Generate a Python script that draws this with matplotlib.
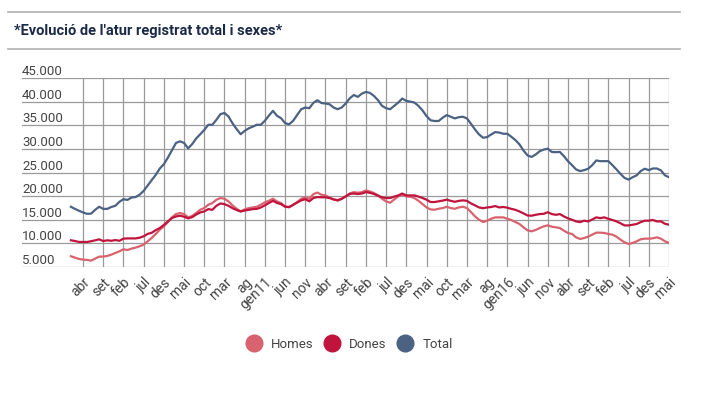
import numpy as np
import matplotlib
matplotlib.use("Agg")
import matplotlib.pyplot as plt
import matplotlib.transforms as mtransforms
from matplotlib.lines import Line2D

plt.rcParams['font.family'] = ['Roboto', 'DejaVu Sans']

# monthly registered unemployment, gen 2007 .. mai 2019
total = [17750, 17300, 16900, 16550, 16250, 16300, 17100, 17750, 17300, 17300,
         17700, 17950, 18800, 19350, 19200, 19700, 19800, 20300, 21100, 22250,
         23400, 24500, 25850, 26750, 28150, 29700, 31250, 31600, 31250, 30100,
         31000, 32200, 33100, 34000, 35100, 35100, 36150, 37350, 37600, 36850,
         35400, 34200, 33100, 33800, 34350, 34700, 35100, 35100, 35950, 37050,
         38050, 37000, 36500, 35450, 35200, 35950, 37200, 38400, 38750, 38600,
         39750, 40300, 39700, 39600, 39450, 38750, 38400, 38750, 39600, 40700,
         41400, 41000, 41700, 42050, 41850, 41200, 40300, 39100, 38600, 38400,
         39100, 39800, 40650, 40150, 40000, 39800, 39100, 38150, 36950, 36050,
         35900, 35900, 36600, 37150, 36800, 36450, 36700, 36800, 36450, 35300,
         34100, 33050, 32350, 32500, 33050, 33550, 33450, 33200, 33200, 32550,
         31850, 30950, 29650, 28600, 28300, 28800, 29500, 29850, 30050, 29350,
         29300, 29350, 28450, 27400, 26550, 25650, 25300, 25500, 25800, 26550,
         27550, 27400, 27400, 27400, 26550, 25650, 24700, 23850, 23500, 24000,
         24400, 25300, 25800, 25500, 25850, 25850, 25450, 24400, 24000]

dones = [10650, 10500, 10300, 10300, 10300, 10450, 10650, 10850, 10500, 10650,
         10550, 10700, 10550, 11000, 11050, 11050, 11050, 11200, 11500, 12000,
         12250, 12800, 13250, 13900, 14650, 15350, 15700, 15850, 15650, 15300,
         15550, 16100, 16550, 16750, 17250, 17100, 17950, 18450, 18300, 17950,
         17450, 17050, 16750, 16950, 17100, 17250, 17300, 17600, 18050, 18550,
         19000, 18550, 18300, 17750, 17700, 18150, 18650, 19100, 19350, 18900,
         19600, 19800, 19750, 19750, 19600, 19300, 19150, 19450, 19950, 20450,
         20550, 20450, 20550, 20850, 20700, 20450, 20100, 19750, 19600, 19600,
         19900, 20150, 20550, 20150, 20150, 20150, 19900, 19600, 19250, 18750,
         18750, 18900, 19050, 19250, 19000, 18800, 19000, 19100, 19000, 18450,
         18050, 17600, 17450, 17600, 17700, 17900, 17600, 17700, 17550, 17300,
         17100, 16750, 16350, 15900, 15850, 16050, 16200, 16250, 16600, 16200,
         16050, 16200, 15700, 15300, 15000, 14650, 14500, 14800, 14650, 15050,
         15500, 15350, 15500, 15200, 14950, 14650, 14250, 13800, 13800, 13950,
         14100, 14500, 14800, 14800, 14950, 14650, 14650, 14150, 13950]

homes = [7270, 6990, 6700, 6560, 6500, 6350, 6770, 7200, 7200, 7340,
         7620, 7970, 8320, 8750, 8600, 8890, 9100, 9380, 9730, 10440,
         11150, 11990, 12900, 13600, 14520, 15500, 16200, 16420, 16200, 15500,
         15800, 16420, 17120, 17470, 18180, 18530, 19230, 19590, 19450, 18880,
         18040, 17330, 16770, 17190, 17470, 17610, 17750, 18180, 18670, 19020,
         19450, 18880, 18530, 17820, 17610, 18180, 18740, 19450, 19730, 19450,
         20430, 20750, 20290, 20150, 19730, 19300, 19020, 19380, 19940, 20570,
         20850, 20710, 20850, 21200, 20990, 20640, 20150, 19450, 18880, 18600,
         19300, 19940, 20290, 19940, 19870, 19590, 19020, 18320, 17610, 17190,
         17120, 17330, 17470, 17750, 17470, 17330, 17610, 17750, 17470, 16630,
         15710, 15010, 14520, 14800, 15220, 15500, 15500, 15500, 15220, 14940,
         14520, 14100, 13390, 12760, 12550, 12830, 13250, 13600, 13810, 13530,
         13390, 13250, 12690, 12200, 11990, 11280, 10930, 11140, 11420, 11840,
         12270, 12270, 12200, 11990, 11840, 11420, 10790, 10220, 9870, 10080,
         10440, 10860, 11000, 11000, 11070, 11280, 11000, 10440, 10080]

x_labels = ['abr', 'set', 'feb', 'jul', 'des', 'mai', 'oct', 'mar', 'ag', 'gen11',
            'jun', 'nov', 'abr', 'set', 'feb', 'jul', 'des', 'mai', 'oct', 'mar',
            'ag', 'gen16', 'jun', 'nov', 'abr', 'set', 'feb', 'jul', 'des', 'mai']
y_ticks = [5000, 10000, 15000, 20000, 25000, 30000, 35000, 40000, 45000]
y_labels = ['5.000', '10.000', '15.000', '20.000', '25.000', '30.000',
            '35.000', '40.000', '45.000']

c_homes = '#d9626f'
c_dones = '#c0143d'
c_total = '#4b6282'
c_text = '#444444'

months = np.arange(len(total))
x_ticks = np.arange(3, len(total), 5)

fig = plt.figure(figsize=(7.04, 3.93), dpi=100)
ax = fig.add_axes([22 / 704, 1 - 267 / 393, (669 - 22) / 704, (267 - 78) / 393])

ax.plot(months, homes, color=c_homes, lw=1.6, solid_joinstyle='round')
ax.plot(months, dones, color=c_dones, lw=1.6, solid_joinstyle='round')
ax.plot(months, total, color=c_total, lw=1.6, solid_joinstyle='round')

ax.set_xlim(-12.1, 148)
ax.set_ylim(5000, 45000)
ax.set_yticks(y_ticks)
ax.set_yticklabels([])
ax.set_xticks(x_ticks)
ax.set_xticklabels(x_labels, rotation=45, ha='right', va='top',
                   rotation_mode='anchor', fontsize=10, color=c_text)
ax.tick_params(length=0, pad=6)
ax.grid(True, color='#9a9a9a', lw=0.9)
ax.set_axisbelow(True)
for s in ax.spines.values():
    s.set_visible(False)

# y labels sit above their gridline, at the left edge
trans = mtransforms.blended_transform_factory(ax.transAxes, ax.transData)
for v, lab in zip(y_ticks, y_labels):
    ax.text(0, v, lab, transform=trans, ha='left', va='bottom', fontsize=9.5,
            color=c_text)

# title and rules
fig.add_artist(Line2D([8 / 704, 680 / 704], [1 - 12 / 393, 1 - 12 / 393],
                      color='#b0b0b0', lw=1.2))
fig.add_artist(Line2D([8 / 704, 680 / 704], [1 - 49 / 393, 1 - 49 / 393],
                      color='#b0b0b0', lw=1.2))
fig.text(14 / 704, 1 - 31 / 393, "*Evolució de l'atur registrat total i sexes*",
         fontsize=10.5, fontweight='bold', color='#1b2a48', va='center', ha='left')

handles = [Line2D([], [], ls='', marker='o', ms=12, color=c) for c in (c_homes, c_dones, c_total)]
fig.legend(handles, ['Homes', 'Dones', 'Total'], loc='center',
           bbox_to_anchor=(350 / 704, 1 - 344 / 393), ncol=3, frameon=False,
           fontsize=9.5, labelcolor=c_text, handletextpad=0.8, columnspacing=0.9,
           handlelength=1.0)

fig.savefig('out.png', dpi=100)
